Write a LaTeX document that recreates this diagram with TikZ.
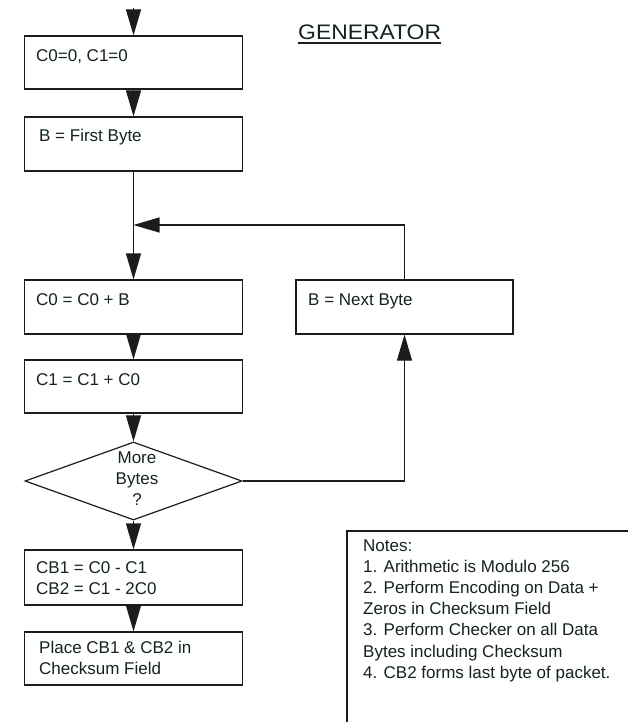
\documentclass[tikz,border=0pt]{standalone}
\usepackage{fontspec}
\setmainfont{Liberation Sans}
\usetikzlibrary{arrows.meta,shapes.geometric}
\definecolor{txtc}{HTML}{142222}
\definecolor{linec}{HTML}{1C1C1C}
\tikzset{
  boxnode/.style={draw=linec, line width=1.2pt, rectangle, inner sep=0pt, minimum width=218pt},
  decnode/.style={draw=linec, line width=1.2pt, diamond, inner sep=0pt, minimum width=217pt, minimum height=78pt},
  lbl/.style={anchor=base west, inner sep=0pt, text=txtc, font=\fontsize{17}{21}\selectfont},
  clbl/.style={anchor=base, inner sep=0pt, text=txtc, font=\fontsize{17}{21}\selectfont},
  arr/.style={draw=linec, line width=1.2pt, -{Triangle[length=26pt,width=15pt]}},
  conn/.style={draw=linec, line width=1.2pt},
}
\begin{document}
\begin{tikzpicture}[x=1pt,y=-1pt]
\useasboundingbox[fill=white] (0,0) rectangle (627,722);
% boxes
\node[boxnode, minimum height=53pt] (b1) at (133.5,62.5) {};
\node[boxnode, minimum height=54pt] (b2) at (133.5,144) {};
\node[boxnode, minimum height=54pt] (b3) at (133.5,307) {};
\node[boxnode, minimum height=54pt, minimum width=217pt] (bn) at (404.5,307) {};
\node[boxnode, minimum height=53pt] (b4) at (133.5,386.5) {};
\node[decnode] (dec) at (133.5,481) {};
\node[boxnode, minimum height=55pt] (b5) at (133.5,577.5) {};
\node[boxnode, minimum height=53pt] (b6) at (133.5,658.5) {};
% texts
\node[lbl] (t1) at (36,62) {C0=0, C1=0};
\node[lbl] (t2) at (39,142) {B = First Byte};
\node[lbl] (t3) at (36,305) {C0 = C0 + B};
\node[lbl] (tn) at (308,305) {B = Next Byte};
\node[lbl] (t4) at (36,385) {C1 = C1 + C0};
\node[clbl] (d1) at (137,463) {More};
\node[clbl] (d2) at (137,484) {Bytes};
\node[clbl] (d3) at (137,505) {?};
\node[lbl] (t5a) at (36,573) {CB1 = C0 - C1};
\node[lbl] (t5b) at (36,594) {CB2 = C1 - 2C0};
\node[lbl] (t6a) at (39,653) {Place CB1 \& CB2 in};
\node[lbl] (t6b) at (39,674) {Checksum Field};
% title
\node[anchor=base west, inner sep=0pt, text=txtc, font=\fontsize{21}{25}\selectfont] (gen) at (298,40) {\scalebox{1.09}[1]{GENERATOR}};
\draw[conn] ([yshift=-3pt]gen.base west) -- ([yshift=-3pt]gen.base east);
% connectors
\coordinate (top) at (133.5,8);
\coordinate (join) at (133.5,225);
\draw[arr] (top) -- (b1.north);
\draw[arr] (b1.south) -- (b2.north);
\draw[arr] (b2.south) -- (b3.north);
\draw[arr] (bn.north) |- (join);
\draw[arr] (b3.south) -- (b4.north);
\draw[arr] (b4.south) -- (dec.north);
\draw[arr] (dec.east) -| (bn.south);
\draw[arr] (dec.south) -- (b5.north);
\draw[arr] (b5.south) -- (b6.north);
% notes
\coordinate (nbl) at (347,723);
\coordinate (ntl) at (347,531);
\coordinate (ntr) at (628,531);
\draw[conn] (nbl) -- (ntl) -- (ntr);
\foreach \t [count=\i] in {{Notes:},{1. Arithmetic is Modulo 256},{2. Perform Encoding on Data +},{Zeros in Checksum Field},{3. Perform Checker on all Data},{Bytes including Checksum},{4. CB2 forms last byte of packet.}}
  \node[lbl] (note\i) at (363,{551+21.2*(\i-1)}) {\t};
\end{tikzpicture}
\end{document}
